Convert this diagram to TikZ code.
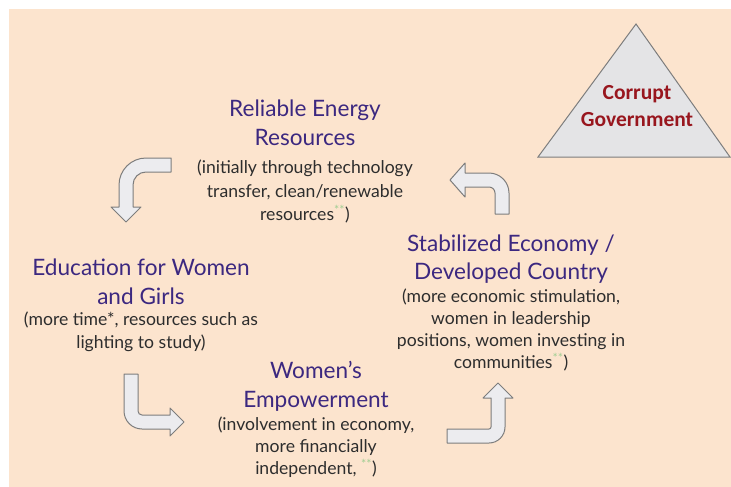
\documentclass[tikz,border=0pt]{standalone}
\usepackage{fontspec}
\setmainfont{Lato}
\newfontfamily\govfont{Carlito}
\usetikzlibrary{positioning}

\definecolor{peach}{RGB}{252,228,206}
\definecolor{titlepurple}{RGB}{60,40,128}
\definecolor{bodygray}{RGB}{45,45,45}
\definecolor{stargreen}{RGB}{160,206,146}
\definecolor{govred}{RGB}{152,22,30}
\definecolor{arrowfill}{RGB}{236,236,239}
\definecolor{arrowedge}{RGB}{125,125,125}
\definecolor{trifill}{RGB}{228,228,230}

\tikzset{
    heading/.style = {align = center, text = titlepurple, inner sep = 0pt,
        font = \fontsize{22.6}{29}\selectfont},
    detail/.style = {align = center, text = bodygray, inner sep = 0pt,
        font = \fontsize{17.6}{22.2}\selectfont},
    bentarrow/.style = {draw = arrowedge, fill = arrowfill, line width = 1pt, line join = round},
}
\newcommand{\stars}{\textsuperscript{\color{stargreen}**}}

\begin{document}
\begin{tikzpicture}[x = 1pt, y = -1pt]
\useasboundingbox (0,0) rectangle (731,487);
\fill[peach] (9,9) rectangle (731,487);

% corrupt government
\coordinate (apex) at (636,24);
\coordinate (baseL) at (538,157);
\coordinate (baseR) at (730,157);
\draw[draw = arrowedge, fill = trifill, line width = 1pt] (apex) -- (baseR) -- (baseL) -- cycle;
\node[align = center, text = govred, inner sep = 0pt, font = \govfont\bfseries\fontsize{21.5}{27}\selectfont]
    (gov) at (637,106) {Corrupt\\Government};

% stages of the cycle
\node[heading] (energy) at (305,123) {Reliable Energy\\Resources};
\node[detail, font = \fontsize{17.6}{23.5}\selectfont] (energyTxt) [below = 14pt of energy]
    {(initially through technology\\transfer, clean/renewable\\resources\stars)};

\node[heading] (edu) at (141,282) {Education for Women\\and Girls};
\node[detail] (eduTxt) [below = 7pt of edu]
    {(more time*, resources such as\\lighting to study)};

\node[heading] (emp) at (316,386) {Women’s\\Empowerment};
\node[detail] (empTxt) [below = 5pt of emp]
    {(involvement in economy,\\more financially\\independent, \stars)};

\node[heading, font = \fontsize{22.6}{27.5}\selectfont] (stab) at (511,259) {Stabilized Economy /\\Developed Country};
\node[detail] (stabTxt) [below = 5pt of stab]
    {(more economic stimulation,\\women in leadership\\positions, women investing in\\communities\stars)};

% arrows
\draw[bentarrow] (171,158) -- (146,158) .. controls (131.1,158) and (119,170.1) .. (119,185)
    -- (119,207) -- (111,207) -- (126,222) -- (141,207) -- (133,207) -- (133,185)
    .. controls (133,177.8) and (138.8,172) .. (146,172) -- (171,172) -- cycle;
\draw[bentarrow] (124,374) -- (138,374) -- (138,411) .. controls (138,413.2) and (139.8,415) .. (142,415)
    -- (170,415) -- (170,408) -- (184,422) -- (170,436) -- (170,429) -- (142,429)
    .. controls (132.1,429) and (124,420.9) .. (124,411) -- cycle;
\draw[bentarrow] (447,429) -- (489,429) .. controls (490.1,429) and (491,428.1) .. (491,427)
    -- (491,398) -- (483,398) -- (498,383) -- (513,398) -- (505,398) -- (505,427)
    .. controls (505,435.8) and (497.8,443) .. (489,443) -- (447,443) -- cycle;
\draw[bentarrow] (495,214) -- (509,214) -- (509,193) .. controls (509,182) and (500,173) .. (489,173)
    -- (465,173) -- (465,163) -- (450,180) -- (465,197) -- (465,187) -- (489,187)
    .. controls (492.3,187) and (495,189.7) .. (495,193) -- cycle;

\end{tikzpicture}
\end{document}
